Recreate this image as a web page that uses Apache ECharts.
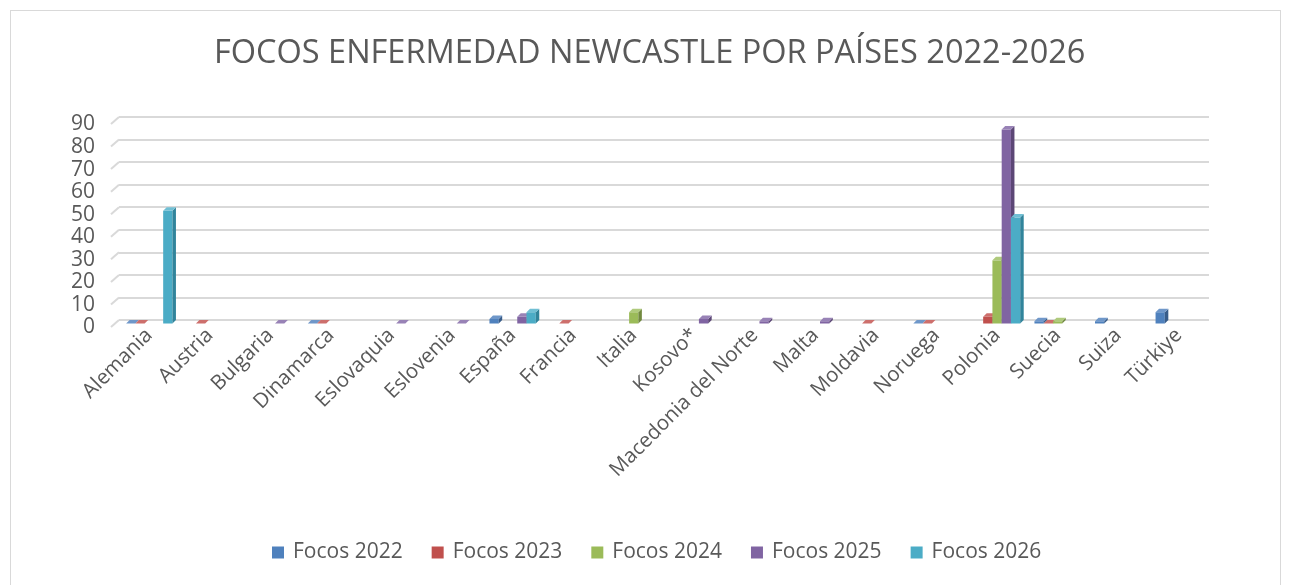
<!DOCTYPE html>
<html>
<head>
<meta charset="utf-8">
<script src="https://cdn.jsdelivr.net/npm/echarts@6/dist/echarts.min.js"></script>
<style>
  html, body { margin: 0; padding: 0; background: #ffffff; }
  #frame { position: absolute; left: 10px; top: 10px; width: 1271px; height: 590px; border: 1px solid #d9d9d9; box-sizing: border-box; }
  #chart { position: absolute; left: 0; top: 0; width: 1291px; height: 585px; }
</style>
</head>
<body>
<div id="frame"></div>
<div id="chart"></div>
<script>
// ---- data ----
const categories = ['Alemania', 'Austria', 'Bulgaria', 'Dinamarca', 'Eslovaquia', 'Eslovenia', 'España', 'Francia', 'Italia', 'Kosovo*', 'Macedonia del Norte', 'Malta', 'Moldavia', 'Noruega', 'Polonia', 'Suecia', 'Suiza', 'Türkiye'];
const seriesNames = ['Focos 2022', 'Focos 2023', 'Focos 2024', 'Focos 2025', 'Focos 2026'];
const focos2022 = [0, null, null, 0, null, null, 2, null, null, null, null, null, null, 0, null, 1, 1, 5];
const focos2023 = [0, 0, null, 0, null, null, null, 0, null, null, null, null, 0, 0, 3, 0, null, null];
const focos2024 = [null, null, null, null, null, null, null, null, 5, null, null, null, null, null, 28, 1, null, null];
const focos2025 = [null, null, 0, null, 0, 0, 3, null, null, 2, 1, 1, null, null, 86, null, null, null];
const focos2026 = [50, null, null, null, null, null, 5, null, null, null, null, null, null, null, 47, null, null, null];
const yTicks = [0, 10, 20, 30, 40, 50, 60, 70, 80, 90];

const seriesValues = [focos2022, focos2023, focos2024, focos2025, focos2026];
const FRONT = ['#4F81BD', '#C0504D', '#9BBB59', '#8064A2', '#4BACC6'];
const SIDE  = ['#385D8A', '#8C3836', '#71893F', '#5C4776', '#31849B'];
const TOP   = ['#6F97C9', '#CD6F6C', '#AFCA7C', '#9882B6', '#70BFD4'];
const TXT = '#595959';
const GRIDC = '#d9d9d9';
const FONT = "'Open Sans', sans-serif";

function makeRender(si) {
  return function (params, api) {
    const cat = api.value(0), v = api.value(1);
    const p0 = api.coord([cat, 0]);
    const p1 = api.coord([cat, v]);
    const cw = api.size([1, 0])[0];
    const bw = cw * 0.153;
    const dx = 3.5, dy = 3.5;
    const xl = p0[0] - 2.5 * bw + si * bw;
    const xr = xl + bw;
    const yb = p0[1] + dy;
    const yt = p1[1] + dy;
    return {
      type: 'group',
      children: [
        { type: 'rect', shape: { x: xl, y: yt, width: bw, height: yb - yt }, style: { fill: FRONT[si] } },
        { type: 'polygon', shape: { points: [[xr, yt], [xr + dx, yt - dy], [xr + dx, yb - dy], [xr, yb]] }, style: { fill: SIDE[si] } },
        { type: 'polygon', shape: { points: [[xl, yt], [xl + dx, yt - dy], [xr + dx, yt - dy], [xr, yt]] }, style: { fill: TOP[si] } }
      ]
    };
  };
}

const series = seriesValues.map((vals, si) => ({
  name: seriesNames[si],
  type: 'custom',
  renderItem: makeRender(si),
  itemStyle: { color: FRONT[si] },
  encode: { x: 0, y: 1 },
  data: vals.map((v, i) => (v === null ? null : [i, v])).filter(d => d !== null),
  z: 3
}));

// side-wall diagonals of the 3D gridlines
series.push({
  name: 'wall',
  type: 'custom',
  silent: true,
  encode: { x: 0, y: 1 },
  data: yTicks.map(t => [0, t]),
  renderItem: function (params, api) {
    const p = api.coord([0, api.value(1)]);
    const cw = api.size([1, 0])[0];
    const x = p[0] - cw / 2;
    return {
      type: 'line',
      shape: { x1: x - 8, y1: p[1] + 7, x2: x, y2: p[1] },
      style: { stroke: GRIDC, lineWidth: 2 }
    };
  },
  z: 1
});

const chart = echarts.init(document.getElementById('chart'), null, { renderer: 'canvas' });
chart.setOption({
  animation: false,
  backgroundColor: 'transparent',
  title: {
    text: 'FOCOS ENFERMEDAD NEWCASTLE POR PAÍSES 2022-2026',
    left: 209,
    top: 32,
    textStyle: { color: TXT, fontFamily: FONT, fontSize: 32.5, fontWeight: 'normal' }
  },
  legend: {
    bottom: 17,
    left: 267,
    itemWidth: 12,
    itemHeight: 12,
    itemGap: 29,
    textStyle: { color: TXT, fontFamily: FONT, fontSize: 21, padding: [0, 0, 0, 4] },
    data: seriesNames.map(n => ({ name: n, icon: 'rect' }))
  },
  grid: { left: 119, right: 82, top: 117, bottom: 265, containLabel: false },
  xAxis: {
    type: 'category',
    data: categories,
    boundaryGap: true,
    axisLine: { show: false },
    axisTick: { show: false },
    axisLabel: { rotate: 45, color: TXT, fontFamily: FONT, fontSize: 20.5, margin: 12, interval: 0 }
  },
  yAxis: {
    type: 'value',
    min: yTicks[0],
    max: yTicks[yTicks.length - 1],
    interval: 10,
    axisLine: { show: false },
    axisTick: { show: false },
    splitLine: { lineStyle: { color: GRIDC, width: 2 } },
    axisLabel: {
      color: TXT, fontFamily: FONT, fontSize: 21, margin: 24,
      showMinLabel: true, showMaxLabel: true, hideOverlap: false,
      formatter: '{v|{value}}',
      rich: { v: { color: TXT, fontFamily: FONT, fontSize: 21, padding: [15, 0, 0, 0] } }
    }
  },
  series: series
});
</script>
</body>
</html>
